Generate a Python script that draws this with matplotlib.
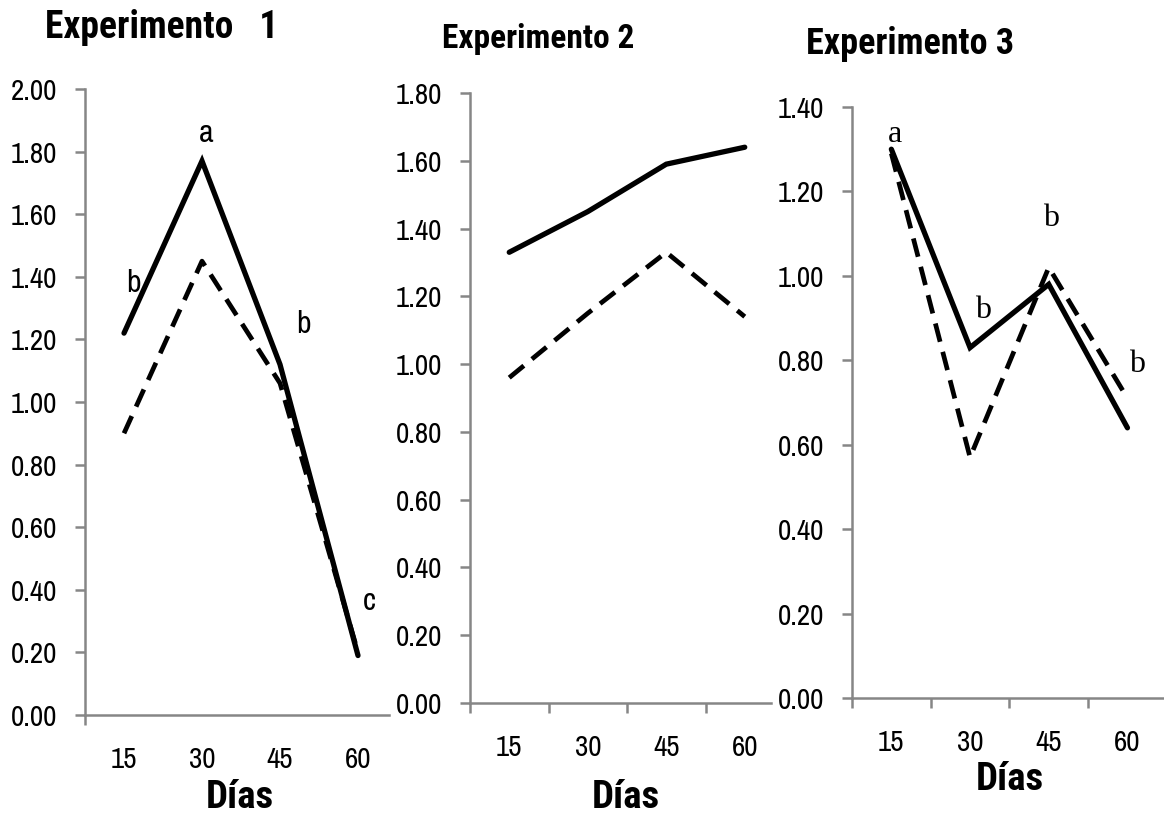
import matplotlib
matplotlib.use("Agg")
import matplotlib.pyplot as plt

# Días de muestreo y valores medios por experimento
dias = ["15", "30", "45", "60"]

exp1_continua = [1.22, 1.77, 1.12, 0.19]
exp1_discontinua = [0.90, 1.45, 1.06, 0.20]
exp1_letras = ["b", "a", "b", "c"]

exp2_continua = [1.33, 1.45, 1.59, 1.64]
exp2_discontinua = [0.96, 1.15, 1.33, 1.14]

exp3_continua = [1.30, 0.83, 0.98, 0.64]
exp3_discontinua = [1.29, 0.57, 1.02, 0.71]
exp3_letras = ["a", "b", "b", "b"]

ANGOSTA = ["Archivo Narrow", "Liberation Sans", "DejaVu Sans"]
NEGRITA = ["Roboto Condensed", "Liberation Sans", "DejaVu Sans"]
SERIF = ["Liberation Serif", "DejaVu Serif"]
plt.rcParams["font.family"] = ANGOSTA

W, H = 1164, 816
fig = plt.figure(figsize=(W / 100, H / 100), dpi=100)
GRIS = "#868686"


def panel(izq, base, arriba, der, ancho_cat, ymax, paso, ticks_x):
    ax = fig.add_axes([izq / W, 1 - base / H, (der - izq) / W, (base - arriba) / H])
    ax.set_xlim(0, (der - izq) / ancho_cat)
    ax.set_ylim(0, ymax)
    for lado in ["top", "right"]:
        ax.spines[lado].set_visible(False)
    for lado in ["left", "bottom"]:
        ax.spines[lado].set_color(GRIS)
        ax.spines[lado].set_linewidth(1.8)
    n = int(round(ymax / paso))
    ax.set_yticks([paso * i for i in range(n + 1)])
    ax.set_yticklabels(["%.2f" % (paso * i) for i in range(n + 1)])
    ax.set_xticks(ticks_x)
    ax.set_xticklabels([])
    ax.set_xticks([0.5, 1.5, 2.5, 3.5], minor=True)
    ax.set_xticklabels(dias, minor=True)
    ax.tick_params(axis="y", length=7, width=1.8, color=GRIS, pad=13, labelsize=21)
    ax.tick_params(axis="x", which="major", length=7, width=1.8, color=GRIS, direction="out")
    ax.tick_params(axis="x", which="minor", length=0, pad=22, labelsize=21)
    ax.patch.set_alpha(0)
    return ax


def lineas(ax, continua, discontinua):
    x = [0.5, 1.5, 2.5, 3.5]
    ax.plot(x, discontinua, color="black", lw=3.4, linestyle=(0, (4, 2.2)),
            solid_joinstyle="round", clip_on=False)
    ax.plot(x, continua, color="black", lw=3.8, solid_capstyle="round",
            solid_joinstyle="miter", clip_on=False)


# Experimento 1
ax1 = panel(85, 715, 89, 389, 78, 2.0, 0.2, [0])
lineas(ax1, exp1_continua, exp1_discontinua)
pos1 = [(0.615, 1.351), (1.55, 1.83), (2.795, 1.22), (3.64, 0.335)]
for letra, (px, py) in zip(exp1_letras, pos1):
    ax1.text(px, py, letra, ha="center", va="baseline", fontsize=23)

# Experimento 2
ax2 = panel(470, 703, 93, 771, 78.5, 1.8, 0.2, [0, 1, 2, 3])
lineas(ax2, exp2_continua, exp2_discontinua)

# Experimento 3
ax3 = panel(852, 698, 107, 1164, 78.7, 1.4, 0.2, [0, 1, 2, 3])
lineas(ax3, exp3_continua, exp3_discontinua)
pos3 = [(0.546, 1.318), (1.665, 0.90), (2.53, 1.118), (3.62, 0.773)]
for letra, (px, py) in zip(exp3_letras, pos3):
    ax3.text(px, py, letra, ha="center", va="baseline", fontsize=23, family=SERIF)

# Títulos y etiquetas del eje x
titulos = [("Experimento   1", 162, 38, 27), ("Experimento 2", 538, 48, 24),
           ("Experimento 3", 910, 54, 26)]
for texto, cx, by, tam in titulos:
    fig.text(cx / W, 1 - by / H, texto, ha="center", va="baseline",
             fontsize=tam, fontweight="bold", family=NEGRITA)

for cx, by in [(240, 808), (626, 808), (1010, 790)]:
    fig.text(cx / W, 1 - by / H, "Días", ha="center", va="baseline",
             fontsize=28, fontweight="bold", family=NEGRITA)

fig.savefig("out.png", dpi=100)
